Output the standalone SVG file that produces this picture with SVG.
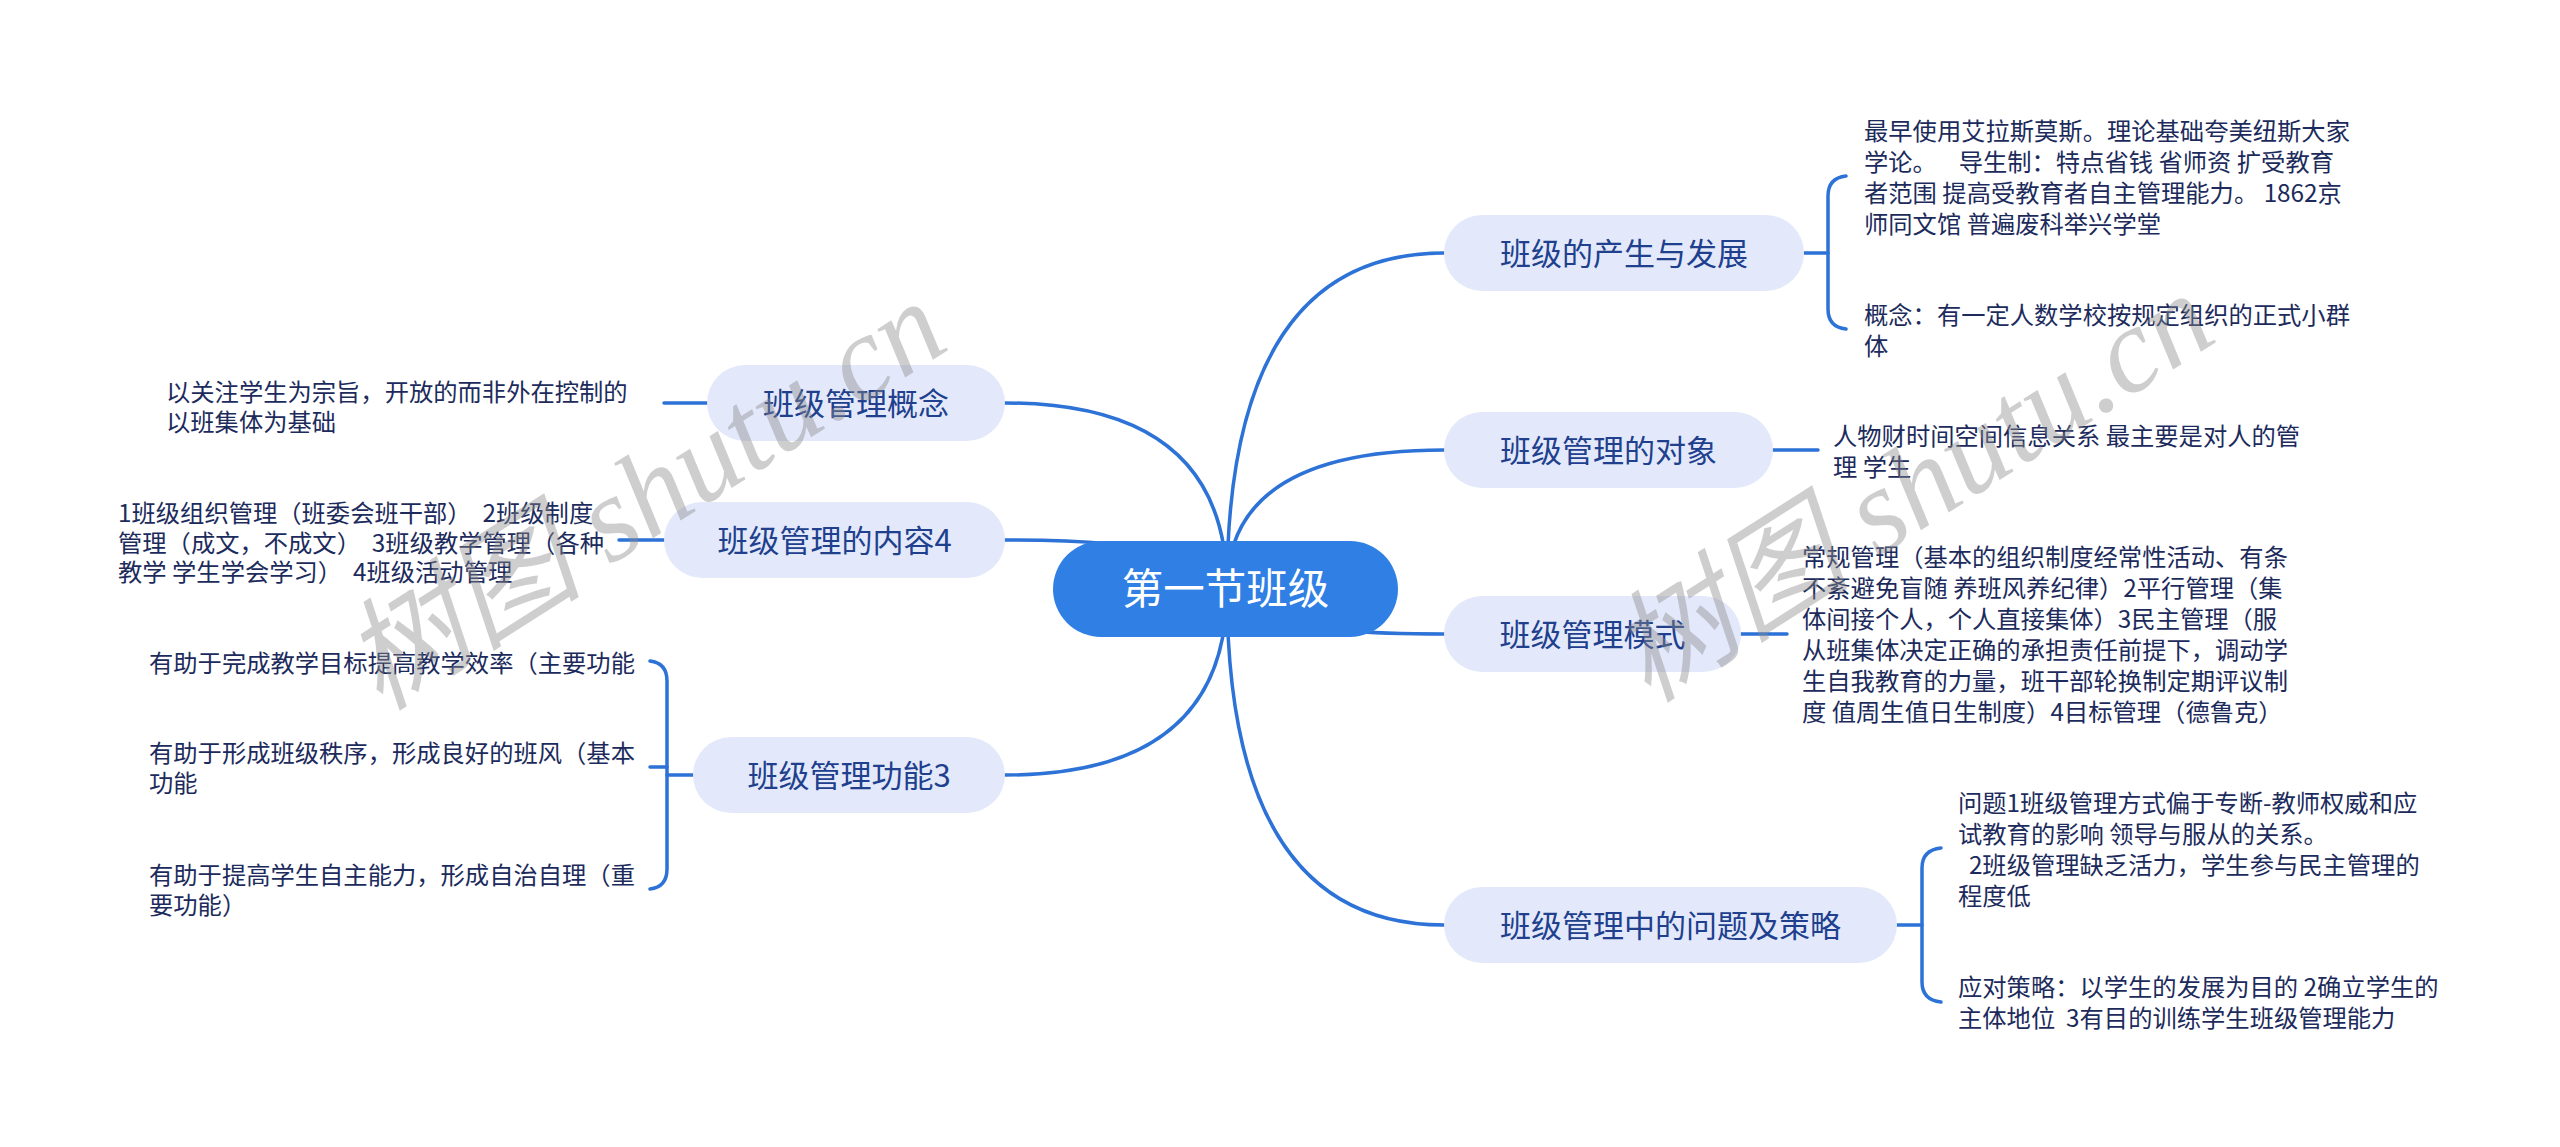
<svg xmlns="http://www.w3.org/2000/svg" width="2560" height="1147" viewBox="0 0 2560 1147">
<style>
.bg{fill:#ffffff}
.line{fill:none;stroke:#2d72d6;stroke-width:3.5;stroke-linecap:round}
.node rect{fill:#e3e9fb}
.node text{font-family:"Noto Sans CJK SC","Noto Sans",sans-serif;font-size:31px;fill:#203f8d;text-anchor:middle}
.root rect{fill:#2f7fe4}
.root text{font-family:"Noto Sans CJK SC","Noto Sans",sans-serif;font-size:41.5px;fill:#ffffff;text-anchor:middle}
.leaf{font-family:"Noto Sans CJK SC","Noto Sans",sans-serif;font-size:24.3px;fill:#1c2b5c;white-space:pre}
.wm{font-family:"Liberation Serif","Noto Sans CJK SC",serif;font-style:italic;font-size:121px;fill:#8a8a8a;fill-opacity:0.42}
</style>
<rect class="bg" x="0" y="0" width="2560" height="1147"/>
<g id="connectors">
  <path class="line" d="M1227 589 Q1227 253 1444 253"/>
  <path class="line" d="M1227 589 Q1227 450 1444 450"/>
  <path class="line" d="M1227 589 Q1227 634 1444 634"/>
  <path class="line" d="M1227 589 Q1227 925 1444 925"/>
  <path class="line" d="M1227 589 Q1227 403 1005 403"/>
  <path class="line" d="M1227 589 Q1227 540 1005 540"/>
  <path class="line" d="M1227 589 Q1227 775 1005 775"/>
  <path class="line" d="M1804 253 H1828"/>
  <path class="line" d="M1846 176 Q1828 178 1828 196 V309 Q1828 327 1846 329"/>
  <path class="line" d="M1773 450 H1818"/>
  <path class="line" d="M1741 634 H1787"/>
  <path class="line" d="M1897 925 H1922"/>
  <path class="line" d="M1941 848 Q1922 850 1922 868 V982 Q1922 1000 1941 1002"/>
  <path class="line" d="M707 403 H664"/>
  <path class="line" d="M664 540 H619"/>
  <path class="line" d="M693 775 H667"/>
  <path class="line" d="M650 661 Q667 663 667 681 V869 Q667 887 650 889"/>
  <path class="line" d="M667 767 H650"/>
</g>
<g id="root" class="root">
  <rect x="1053" y="541" width="345" height="96" rx="48"/>
  <text x="1225.5" y="604">第一节班级</text>
</g>
<g id="n-chansheng" class="node">
  <rect x="1444" y="215" width="360" height="76" rx="38"/>
  <text x="1624" y="265">班级的产生与发展</text>
</g>
<g id="n-duixiang" class="node">
  <rect x="1444" y="412" width="329" height="76" rx="38"/>
  <text x="1608.5" y="462">班级管理的对象</text>
</g>
<g id="n-moshi" class="node">
  <rect x="1444" y="596" width="297" height="76" rx="38"/>
  <text x="1592.5" y="646">班级管理模式</text>
</g>
<g id="n-wenti" class="node">
  <rect x="1444" y="887" width="453" height="76" rx="38"/>
  <text x="1670.5" y="937">班级管理中的问题及策略</text>
</g>
<g id="n-gainian" class="node">
  <rect x="707" y="365" width="298" height="76" rx="38"/>
  <text x="856" y="415">班级管理概念</text>
</g>
<g id="n-neirong" class="node">
  <rect x="664" y="502" width="341" height="76" rx="38"/>
  <text x="834.5" y="552">班级管理的内容4</text>
</g>
<g id="n-gongneng" class="node">
  <rect x="693" y="737" width="312" height="76" rx="38"/>
  <text x="849" y="787">班级管理功能3</text>
</g>
<g id="l-chansheng-1">
  <text class="leaf" xml:space="preserve"><tspan x="1864" y="140">最早使用艾拉斯莫斯。理论基础夸美纽斯大家</tspan><tspan x="1864" y="171">学论。    导生制：特点省钱 省师资 扩受教育</tspan><tspan x="1864" y="202">者范围 提高受教育者自主管理能力。 1862京</tspan><tspan x="1864" y="233">师同文馆 普遍废科举兴学堂</tspan></text>
</g>
<g id="l-chansheng-2">
  <text class="leaf" xml:space="preserve"><tspan x="1864" y="324">概念：有一定人数学校按规定组织的正式小群</tspan><tspan x="1864" y="355">体</tspan></text>
</g>
<g id="l-duixiang">
  <text class="leaf" xml:space="preserve"><tspan x="1833" y="445">人物财时间空间信息关系 最主要是对人的管</tspan><tspan x="1833" y="476">理 学生</tspan></text>
</g>
<g id="l-moshi">
  <text class="leaf" xml:space="preserve"><tspan x="1802" y="566">常规管理（基本的组织制度经常性活动、有条</tspan><tspan x="1802" y="597">不紊避免盲随 养班风养纪律）2平行管理（集</tspan><tspan x="1802" y="628">体间接个人，个人直接集体）3民主管理（服</tspan><tspan x="1802" y="659">从班集体决定正确的承担责任前提下，调动学</tspan><tspan x="1802" y="690">生自我教育的力量，班干部轮换制定期评议制</tspan><tspan x="1802" y="721">度 值周生值日生制度）4目标管理（德鲁克）</tspan></text>
</g>
<g id="l-wenti-1">
  <text class="leaf" xml:space="preserve"><tspan x="1958" y="812">问题1班级管理方式偏于专断-教师权威和应</tspan><tspan x="1958" y="843">试教育的影响 领导与服从的关系。</tspan><tspan x="1958" y="874">  2班级管理缺乏活力，学生参与民主管理的</tspan><tspan x="1958" y="905">程度低</tspan></text>
</g>
<g id="l-wenti-2">
  <text class="leaf" xml:space="preserve"><tspan x="1958" y="996">应对策略：以学生的发展为目的 2确立学生的</tspan><tspan x="1958" y="1027">主体地位  3有目的训练学生班级管理能力</tspan></text>
</g>
<g id="l-gainian">
  <text class="leaf" xml:space="preserve"><tspan x="166" y="401">以关注学生为宗旨，开放的而非外在控制的</tspan><tspan x="166" y="431">以班集体为基础</tspan></text>
</g>
<g id="l-neirong">
  <text class="leaf" xml:space="preserve"><tspan x="118" y="522">1班级组织管理（班委会班干部）  2班级制度</tspan><tspan x="118" y="552">管理（成文，不成文）  3班级教学管理（各种</tspan><tspan x="118" y="581">教学 学生学会学习）  4班级活动管理</tspan></text>
</g>
<g id="l-gongneng-1">
  <text class="leaf" xml:space="preserve"><tspan x="149" y="672">有助于完成教学目标提高教学效率（主要功能</tspan></text>
</g>
<g id="l-gongneng-2">
  <text class="leaf" xml:space="preserve"><tspan x="149" y="762">有助于形成班级秩序，形成良好的班风（基本</tspan><tspan x="149" y="792">功能</tspan></text>
</g>
<g id="l-gongneng-3">
  <text class="leaf" xml:space="preserve"><tspan x="149" y="884">有助于提高学生自主能力，形成自治自理（重</tspan><tspan x="149" y="914">要功能）</tspan></text>
</g>
<g id="watermarks">
  <text class="wm" transform="translate(380 712) rotate(-32.5)">树图 shutu.cn</text>
  <text class="wm" transform="translate(1648 704) rotate(-32.5)">树图 shutu.cn</text>
</g>
</svg>
